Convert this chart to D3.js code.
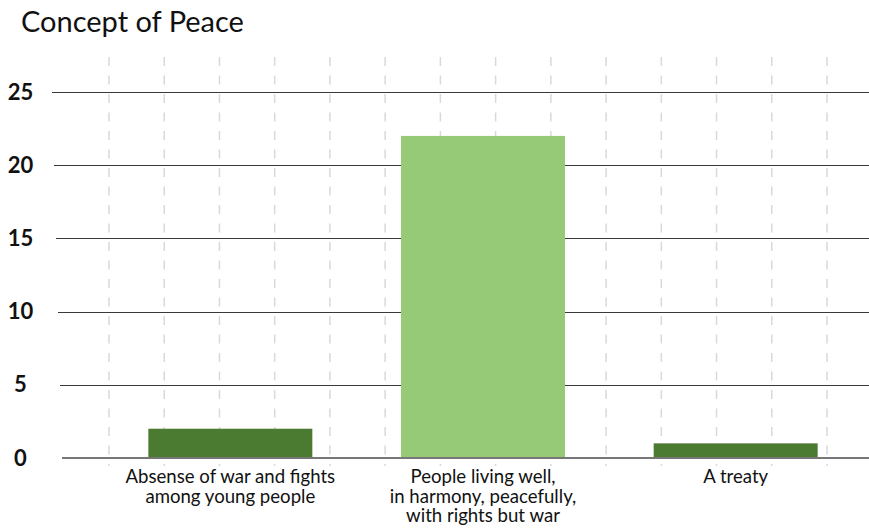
<!DOCTYPE html>
<html><head><meta charset="utf-8">
<script src="https://cdn.jsdelivr.net/npm/d3@7"></script>
<style>
html,body{margin:0;padding:0;background:#fff;}
svg{display:block;font-family:Lato,"Open Sans",sans-serif;}
</style></head>
<body><svg id="chart" width="869" height="528"></svg>
<script>
const title = "Concept of Peace";
const categories = [
  ["Absense of war and fights", "among young people"],
  ["People living well,", "in harmony, peacefully,", "with rights but war"],
  ["A treaty"]
];
const values = [2, 22, 1];
const barColors = ["#4b7a31", "#97ca76", "#4b7a31"];
const yTicks = [0, 5, 10, 15, 20, 25];
const vGrid = d3.range(14);

const svg = d3.select("#chart");
const W = 869, H = 528;

const y = d3.scaleLinear().domain([0, 25]).range([458, 92]);
const x = d3.scaleBand().domain(d3.range(categories.length))
  .range([104, 862]).paddingInner(0.351).paddingOuter(0.1755);
const gx = d3.scaleLinear().domain([0, 13]).range([109, 827]);

// title
svg.append("text").attr("x", 21).attr("y", 32)
  .attr("font-size", 29).attr("fill", "#111").text(title);

// vertical dashed grid
svg.append("g").selectAll("line").data(vGrid).join("line")
  .attr("x1", d => gx(d)).attr("x2", d => gx(d))
  .attr("y1", 57).attr("y2", 466)
  .attr("stroke", "#d9d9d9").attr("stroke-width", 1.5)
  .attr("stroke-dasharray", "9,9.5");

// horizontal grid lines
svg.append("g").selectAll("line").data(yTicks.filter(d => d > 0)).join("line")
  .attr("x1", d => 62 - 0.4 * d).attr("x2", W)
  .attr("y1", d => Math.round(y(d)) + 0.5).attr("y2", d => Math.round(y(d)) + 0.5)
  .attr("stroke", "#3a3a3a").attr("stroke-width", 1.2);

// bars
svg.append("g").selectAll("rect").data(values).join("rect")
  .attr("x", (d, i) => x(i)).attr("width", x.bandwidth())
  .attr("y", d => y(d)).attr("height", d => y(0) - y(d))
  .attr("fill", (d, i) => barColors[i]);

// zero axis line
svg.append("line").attr("x1", 62).attr("x2", W)
  .attr("y1", y(0)).attr("y2", y(0))
  .attr("stroke", "#777").attr("stroke-width", 2);

// y tick labels
svg.append("g").selectAll("text").data(yTicks).join("text")
  .attr("x", 20.5).attr("y", d => y(d) + 7.5)
  .attr("text-anchor", "middle").attr("font-size", 22).attr("font-weight", "bold")
  .attr("fill", "#111").text(d => d);

// x labels
const xl = svg.append("g").selectAll("text").data(categories).join("text")
  .attr("x", (d, i) => x(i) + x.bandwidth() / 2)
  .attr("y", 483).attr("text-anchor", "middle")
  .attr("font-size", 18.6).attr("fill", "#111");
xl.selectAll("tspan").data(d => d).join("tspan")
  .attr("x", function () { return d3.select(this.parentNode).attr("x"); })
  .attr("dy", (d, i) => i === 0 ? 0 : 19.5)
  .text(d => d);
</script></body></html>
